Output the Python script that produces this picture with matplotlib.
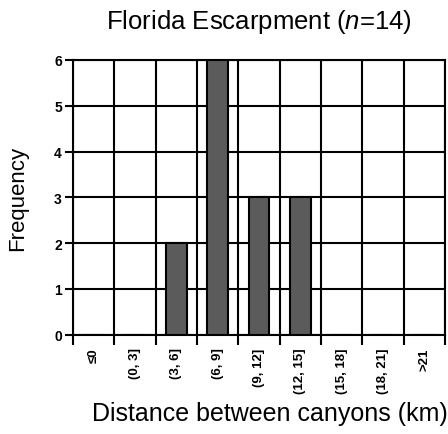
import matplotlib
matplotlib.use("Agg")

import matplotlib.pyplot as plt
import numpy as np

# ---------------------------
# Data
# ---------------------------
categories = ["≤0", "(0, 3]", "(3, 6]", "(6, 9]", "(9, 12]",
              "(12, 15]", "(15, 18]", "(18, 21]", ">21"]
counts = [0, 0, 2, 6, 3, 3, 0, 0, 0]
y_ticks = [0, 1, 2, 3, 4, 5, 6]

plt.rcParams["font.family"] = ["Liberation Sans", "DejaVu Sans"]
plt.rcParams["mathtext.fontset"] = "custom"
plt.rcParams["mathtext.rm"] = "Liberation Sans"
plt.rcParams["mathtext.it"] = "Liberation Sans:italic"

fig = plt.figure(figsize=(4.48, 4.35), dpi=100)
ax = fig.add_axes([0.163, 0.228, 0.830, 0.632])

x = np.arange(len(categories)) + 0.5
ax.bar(x, counts, width=0.5, color="#5b5b5b", edgecolor="black",
       linewidth=1.5, zorder=3)

ax.set_xlim(0, len(categories))
ax.set_ylim(0, 6)

# category boundaries as major ticks (grid), labels at centers
ax.set_xticks(np.arange(len(categories) + 1))
ax.set_xticklabels([])
ax.set_xticks(x, minor=True)
ax.set_xticklabels(categories, minor=True, rotation=90, va="top",
                   fontsize=9.5, fontweight="bold")
ax.tick_params(axis="x", which="major", length=7, width=1.5, direction="out")
ax.tick_params(axis="x", which="minor", length=0, pad=9)

ax.set_yticks(y_ticks)
ax.set_yticklabels([str(v) for v in y_ticks], fontsize=10, fontweight="bold")
ax.tick_params(axis="y", length=6, width=1.5, direction="out", pad=2)

ax.grid(True, which="major", color="black", linewidth=1.5, zorder=1)
ax.set_axisbelow(True)
for s in ax.spines.values():
    s.set_linewidth(1.5)

ax.set_title("Florida Escarpment ($\\it{n}$=14)", fontsize=18.5, pad=23)
ax.set_xlabel("Distance between canyons (km)", fontsize=18)
ax.xaxis.set_label_coords(0.53, -0.24)
ax.set_ylabel("Frequency", fontsize=16, labelpad=19)

fig.savefig("out.png", dpi=100)
